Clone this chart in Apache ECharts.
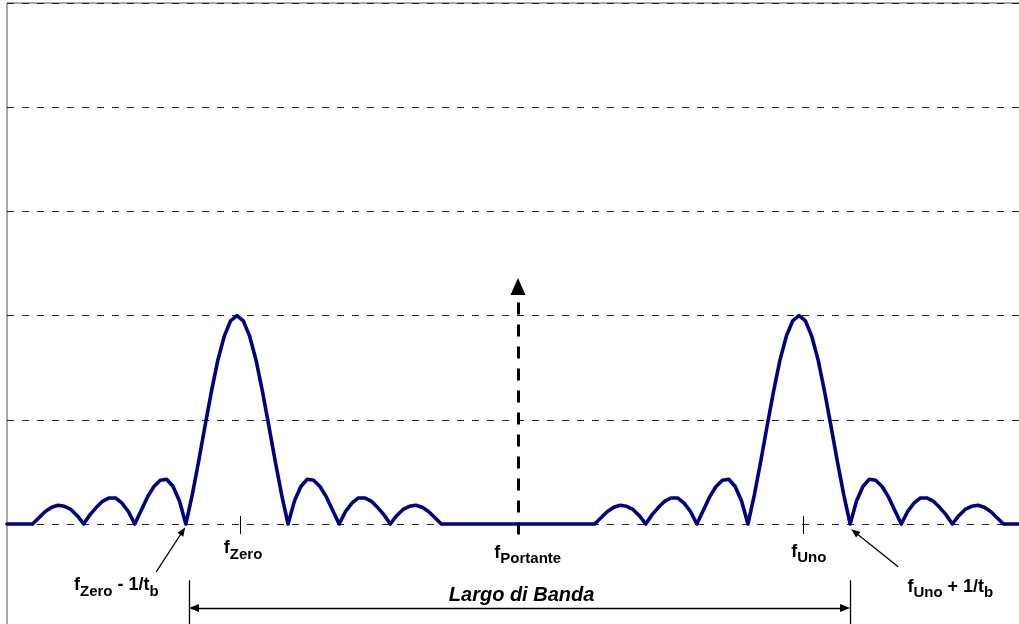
<!DOCTYPE html>
<html>
<head>
<meta charset="utf-8">
<script src="https://cdn.jsdelivr.net/npm/echarts@6/dist/echarts.min.js"></script>
<style>
html,body{margin:0;padding:0;background:#fff;}
#chart{width:1019px;height:624px;}
</style>
</head>
<body>
<div id="chart"></div>
<script>
// Spectrum samples (null = break between lobes)
const freqLeft = [
  -10, -9.5, null,
  -9.5, -9.375, -9.25, -9.125, -9, -8.875, -8.75, -8.625, -8.5, null,
  -8.5, -8.375, -8.25, -8.125, -8, -7.875, -7.75, -7.625, -7.5, null,
  -7.5, -7.375, -7.25, -7.125, -7, -6.875, -6.75, -6.625, -6.5, null,
  -6.5, -6.375, -6.25, -6.125, -6, -5.875, -5.75, -5.625, -5.5, -5.375, -5.25, -5.125, -5, -4.875, -4.75, -4.625, -4.5, null,
  -4.5, -4.375, -4.25, -4.125, -4, -3.875, -3.75, -3.625, -3.5, null,
  -3.5, -3.375, -3.25, -3.125, -3, -2.875, -2.75, -2.625, -2.5, null,
  -2.5, -2.375, -2.25, -2.125, -2, -1.875, -1.75, -1.625, -1.5, null,
  -1.5, 1.5, null
];
const levelLeft = [
  0, 0, null,
  0, 0.06, 0.12, 0.16, 0.18, 0.17, 0.14, 0.08, 0, null,
  0, 0.09, 0.16, 0.22, 0.25, 0.25, 0.20, 0.12, 0, null,
  0, 0.13, 0.26, 0.36, 0.42, 0.43, 0.36, 0.22, 0, null,
  0, 0.28, 0.60, 0.94, 1.27, 1.57, 1.80, 1.95, 2.00, 1.95, 1.80, 1.57, 1.27, 0.94, 0.60, 0.28, 0, null,
  0, 0.22, 0.36, 0.43, 0.42, 0.36, 0.26, 0.13, 0, null,
  0, 0.12, 0.20, 0.25, 0.25, 0.22, 0.16, 0.09, 0, null,
  0, 0.08, 0.14, 0.17, 0.18, 0.16, 0.12, 0.06, 0, null,
  0, 0, null
];
const freqRight = [
  1.5, 1.625, 1.75, 1.875, 2, 2.125, 2.25, 2.375, 2.5, null,
  2.5, 2.625, 2.75, 2.875, 3, 3.125, 3.25, 3.375, 3.5, null,
  3.5, 3.625, 3.75, 3.875, 4, 4.125, 4.25, 4.375, 4.5, null,
  4.5, 4.625, 4.75, 4.875, 5, 5.125, 5.25, 5.375, 5.5, 5.625, 5.75, 5.875, 6, 6.125, 6.25, 6.375, 6.5, null,
  6.5, 6.625, 6.75, 6.875, 7, 7.125, 7.25, 7.375, 7.5, null,
  7.5, 7.625, 7.75, 7.875, 8, 8.125, 8.25, 8.375, 8.5, null,
  8.5, 8.625, 8.75, 8.875, 9, 9.125, 9.25, 9.375, 9.5, null,
  9.5, 10
];
const levelRight = [
  0, 0.06, 0.12, 0.16, 0.18, 0.17, 0.14, 0.08, 0, null,
  0, 0.09, 0.16, 0.22, 0.25, 0.25, 0.20, 0.12, 0, null,
  0, 0.13, 0.26, 0.36, 0.42, 0.43, 0.36, 0.22, 0, null,
  0, 0.28, 0.60, 0.94, 1.27, 1.57, 1.80, 1.95, 2.00, 1.95, 1.80, 1.57, 1.27, 0.94, 0.60, 0.28, 0, null,
  0, 0.22, 0.36, 0.43, 0.42, 0.36, 0.26, 0.13, 0, null,
  0, 0.12, 0.20, 0.25, 0.25, 0.22, 0.16, 0.09, 0, null,
  0, 0.08, 0.14, 0.17, 0.18, 0.16, 0.12, 0.06, 0, null,
  0, 0
];

// Carrier (dashed arrow)
const carrierFreq = [0];
const carrierRange = [-0.1, 2.28];

// Small tick marks under fZero and fUno
const tickFreqs = [-5.44, 5.58];
const tickRange = [0.077, -0.096];

// Annotation arrows
const pointerFrom = [[-7.08, -0.46], [7.44, -0.41]];
const pointerTo = [[-6.56, -0.067], [6.59, -0.077]];

// Bandwidth arrow
const bandEdges = [-6.44, 6.5];
const bandLevel = -0.806;
const bandBarRange = [-0.54, -0.96];

// Text labels
const labelTexts = [
  '{f|f}{s|Zero}',
  '{f|f}{s|Portante}',
  '{f|f}{s|Uno}',
  '{f|f}{s|Zero}{m| - 1/t}{s|b}',
  '{f|f}{s|Uno}{m| + 1/t}{s|b}',
  '{i|Largo di Banda}'
];
const labelFreqs = [-5.38, 0.19, 5.69, -7.86, 8.46, 0.07];
const labelLevels = [-0.245, -0.285, -0.275, -0.6, -0.61, -0.69];

const FONT = '"Liberation Sans", Arial, Helvetica, sans-serif';

const freqAll = freqLeft.concat(freqRight);
const levelAll = levelLeft.concat(levelRight);
const spectrum = freqAll.map((f, i) => levelAll[i] === null ? [f === null ? 0 : f, '-'] : [f, levelAll[i]]);

const richStyles = {
  f: {fontSize: 18, fontWeight: 'bold', fontFamily: FONT, color: '#000', lineHeight: 20, verticalAlign: 'top'},
  m: {fontSize: 18, fontWeight: 'bold', fontFamily: FONT, color: '#000', lineHeight: 20, verticalAlign: 'top'},
  s: {fontSize: 15, fontWeight: 'bold', fontFamily: FONT, color: '#000', lineHeight: 15, padding: [8, 0, 0, 0], verticalAlign: 'top'},
  i: {fontSize: 20, fontWeight: 'bold', fontStyle: 'italic', fontFamily: FONT, color: '#000', lineHeight: 22}
};

const chart = echarts.init(document.getElementById('chart'), null, {renderer: 'canvas'});

const option = {
  animation: false,
  backgroundColor: '#ffffff',
  grid: {
    left: 7, right: -10, top: 3, bottom: -4.2,
    outerBoundsMode: 'none',
    containLabel: false,
    show: true, borderColor: '#555', borderWidth: 1, backgroundColor: 'transparent'
  },
  xAxis: {
    type: 'value', min: -10, max: 10,
    axisLine: {show: false}, axisTick: {show: false}, axisLabel: {show: false}, splitLine: {show: false}
  },
  yAxis: {
    type: 'value', min: -1, max: 5, interval: 1,
    axisLine: {show: false}, axisTick: {show: false}, axisLabel: {show: false},
    splitLine: {show: true, lineStyle: {color: '#222', width: 1, type: [7, 8]}}
  },
  series: [
    {
      name: 'Spettro',
      type: 'line',
      data: spectrum,
      smooth: false,
      showSymbol: false,
      symbol: 'none',
      connectNulls: false,
      lineStyle: {color: '#000080', width: 3.6, cap: 'round', join: 'round'},
      z: 5
    },
    {
      name: 'Portante',
      type: 'line',
      data: [],
      markLine: {
        silent: true,
        symbol: ['none', 'triangle'],
        symbolSize: [15, 17],
        label: {show: false},
        lineStyle: {color: '#000', width: 3, type: [12, 10]},
        data: carrierFreq.map(f => [{coord: [f, carrierRange[0]]}, {coord: [f, carrierRange[1]]}])
      },
      z: 6
    },
    {
      name: 'Tacche',
      type: 'line',
      data: [],
      markLine: {
        silent: true,
        symbol: ['none', 'none'],
        label: {show: false},
        lineStyle: {color: '#000', width: 1, type: 'solid'},
        data: tickFreqs.map(f => [{coord: [f, tickRange[0]]}, {coord: [f, tickRange[1]]}])
      }
    },
    {
      name: 'Frecce',
      type: 'line',
      data: [],
      markLine: {
        silent: true,
        symbol: ['none', 'triangle'],
        symbolSize: [7, 9],
        label: {show: false},
        lineStyle: {color: '#000', width: 1.3, type: 'solid'},
        data: pointerFrom.map((p, i) => [{coord: p}, {coord: pointerTo[i]}])
      }
    },
    {
      name: 'Banda',
      type: 'line',
      data: [],
      markLine: {
        silent: true,
        symbol: ['triangle', 'triangle'],
        symbolSize: [8, 10],
        label: {show: false},
        lineStyle: {color: '#000', width: 1.3, type: 'solid'},
        data: [[{coord: [bandEdges[0] + 0.1, bandLevel]}, {coord: [bandEdges[1] - 0.1, bandLevel]}]]
      }
    },
    {
      name: 'Estremi',
      type: 'line',
      data: [],
      markLine: {
        silent: true,
        symbol: ['none', 'none'],
        label: {show: false},
        lineStyle: {color: '#000', width: 1.3, type: 'solid'},
        data: bandEdges.map(f => [{coord: [f, bandBarRange[0]]}, {coord: [f, bandBarRange[1]]}])
      }
    },
    {
      name: 'Etichette',
      type: 'line',
      data: [],
      markPoint: {
        silent: true,
        symbol: 'circle',
        symbolSize: 0,
        itemStyle: {color: 'transparent'},
        label: {show: true, position: 'inside', rich: richStyles},
        data: labelTexts.map((t, i) => ({
          coord: [labelFreqs[i], labelLevels[i]],
          label: {formatter: t}
        }))
      }
    }
  ]
};

chart.setOption(option);
</script>
</body>
</html>
